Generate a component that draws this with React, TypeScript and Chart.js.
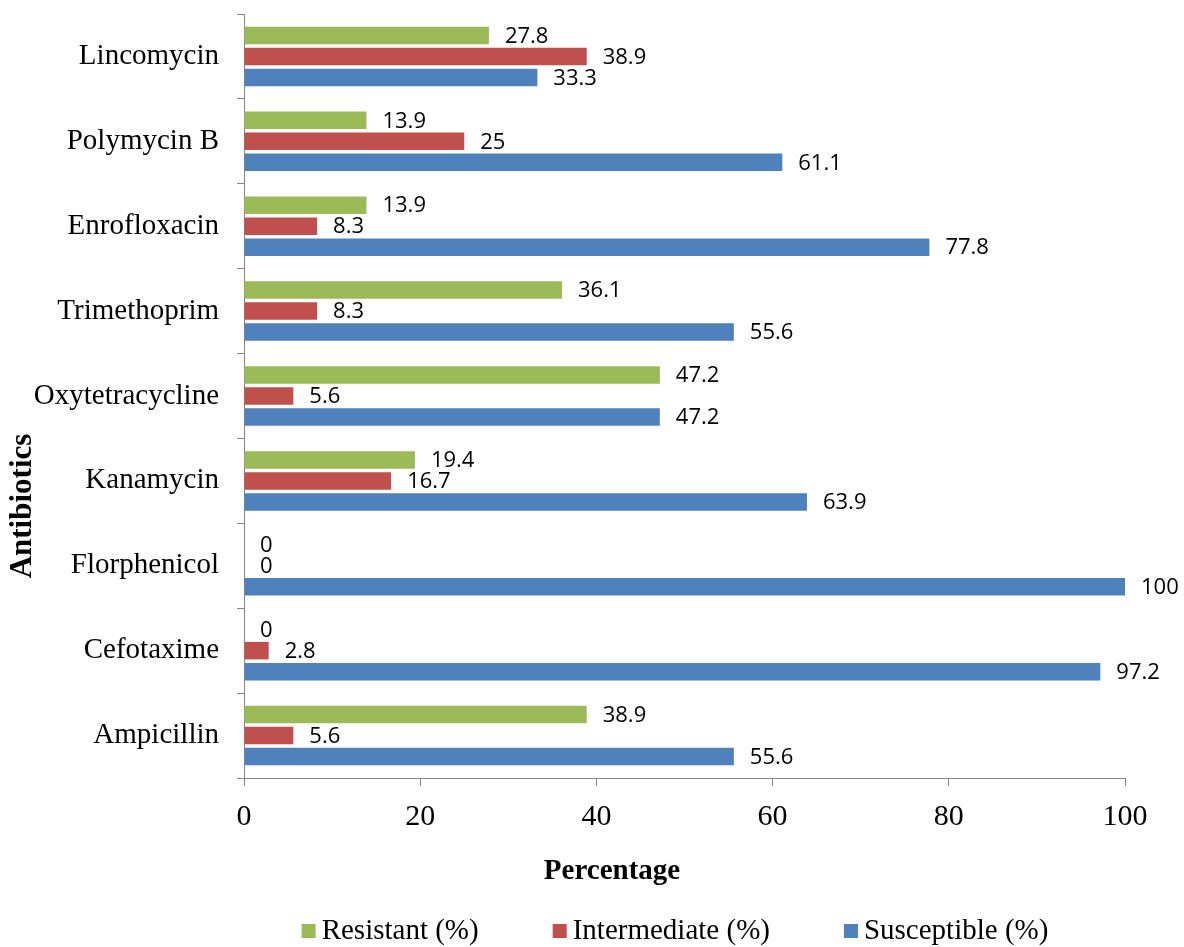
import React, { useEffect, useRef } from "react";
import { Chart, registerables } from "chart.js";

Chart.register(...registerables);

const antibiotics = [
  "Lincomycin",
  "Polymycin B",
  "Enrofloxacin",
  "Trimethoprim",
  "Oxytetracycline",
  "Kanamycin",
  "Florphenicol",
  "Cefotaxime",
  "Ampicillin",
];
const resistant = [27.8, 13.9, 13.9, 36.1, 47.2, 19.4, 0, 0, 38.9];
const intermediate = [38.9, 25, 8.3, 8.3, 5.6, 16.7, 0, 2.8, 5.6];
const susceptible = [33.3, 61.1, 77.8, 55.6, 47.2, 63.9, 100, 97.2, 55.6];
const seriesNames = ["Resistant (%)", "Intermediate (%)", "Susceptible (%)"];
const seriesColors = ["#9BBB59", "#C0504D", "#4F81BD"];
const xTickMin = 0;
const xTickMax = 100;
const xTickStep = 20;
const xTitle = "Percentage";
const yTitle = "Antibiotics";

const SERIF = '"Liberation Serif", "Times New Roman", serif';
const AXIS_COLOR = "#868686";

const dataLabelPlugin = {
  id: "dataLabels",
  afterDatasetsDraw(chart: any) {
    const ctx = chart.ctx;
    ctx.save();
    ctx.font = '22px "Open Sans", "Noto Sans", sans-serif';
    ctx.fillStyle = "#000";
    ctx.textAlign = "left";
    ctx.textBaseline = "middle";
    chart.data.datasets.forEach((ds: any, di: number) => {
      const meta = chart.getDatasetMeta(di);
      meta.data.forEach((el: any, i: number) => {
        const v = ds.data[i];
        ctx.fillText(String(v), el.x + 16, el.y + 1);
      });
    });
    ctx.restore();
  },
};

const decorPlugin = {
  id: "decor",
  afterDraw(chart: any) {
    const ctx = chart.ctx;
    ctx.save();
    ctx.fillStyle = "#000";
    // x axis title
    ctx.font = `bold 29px ${SERIF}`;
    ctx.textAlign = "center";
    ctx.textBaseline = "middle";
    ctx.fillText(xTitle, 612, 872);
    // y axis title
    ctx.save();
    ctx.translate(23, 506);
    ctx.rotate(-Math.PI / 2);
    ctx.font = `bold 31px ${SERIF}`;
    ctx.fillText(yTitle, 0, 0);
    ctx.restore();
    // legend
    ctx.font = `29px ${SERIF}`;
    const box = 14;
    const gap = 6;
    const itemGap = 74;
    const widths = seriesNames.map((n) => ctx.measureText(n).width);
    const total =
      widths.reduce((a, b) => a + b, 0) +
      seriesNames.length * (box + gap) +
      (seriesNames.length - 1) * itemGap;
    let x = 675 - total / 2;
    const cy = 931;
    ctx.textAlign = "left";
    seriesNames.forEach((n, i) => {
      ctx.fillStyle = seriesColors[i];
      ctx.fillRect(x, cy - box / 2, box, box);
      ctx.fillStyle = "#000";
      ctx.fillText(n, x + box + gap, cy);
      x += box + gap + widths[i] + itemGap;
    });
    ctx.restore();
  },
};

export default function App() {
  const canvasRef = useRef<HTMLCanvasElement | null>(null);

  useEffect(() => {
    if (!canvasRef.current) return;
    const chart = new Chart(canvasRef.current, {
      type: "bar",
      data: {
        labels: antibiotics,
        datasets: [
          { label: seriesNames[0], data: resistant, backgroundColor: seriesColors[0] },
          { label: seriesNames[1], data: intermediate, backgroundColor: seriesColors[1] },
          { label: seriesNames[2], data: susceptible, backgroundColor: seriesColors[2] },
        ],
      },
      options: {
        indexAxis: "y",
        animation: false,
        responsive: true,
        maintainAspectRatio: false,
        datasets: {
          bar: { categoryPercentage: 0.742, barPercentage: 0.833 },
        },
        layout: { padding: { top: 14, right: 59, left: 0, bottom: 119 } },
        plugins: {
          legend: { display: false },
          tooltip: { enabled: false },
          title: { display: false },
        },
        scales: {
          x: {
            type: "linear",
            min: xTickMin,
            max: xTickMax,
            ticks: {
              stepSize: xTickStep,
              color: "#000",
              font: { family: SERIF, size: 30 },
              padding: 13,
            },
            grid: {
              display: true,
              drawOnChartArea: false,
              drawTicks: true,
              tickLength: 8,
              color: AXIS_COLOR,
            },
            border: { display: true, color: AXIS_COLOR, width: 1 },
            afterFit: (scale: any) => {
              scale.height = 50;
            },
          },
          y: {
            type: "category",
            ticks: {
              color: "#000",
              font: { family: SERIF, size: 29 },
              padding: 18,
            },
            grid: {
              display: true,
              offset: true,
              drawOnChartArea: false,
              drawTicks: true,
              tickLength: 7,
              color: AXIS_COLOR,
            },
            border: { display: true, color: AXIS_COLOR, width: 1 },
            afterFit: (scale: any) => {
              scale.width = 244;
              scale.paddingTop = 0;
              scale.paddingBottom = 0;
            },
          },
        },
      },
      plugins: [dataLabelPlugin, decorPlugin],
    } as any);
    return () => chart.destroy();
  }, []);

  return (
    <div
      style={{
        position: "absolute",
        left: 0,
        top: 0,
        width: 1184,
        height: 947,
        background: "#fff",
      }}
    >
      <canvas ref={canvasRef} />
    </div>
  );
}
